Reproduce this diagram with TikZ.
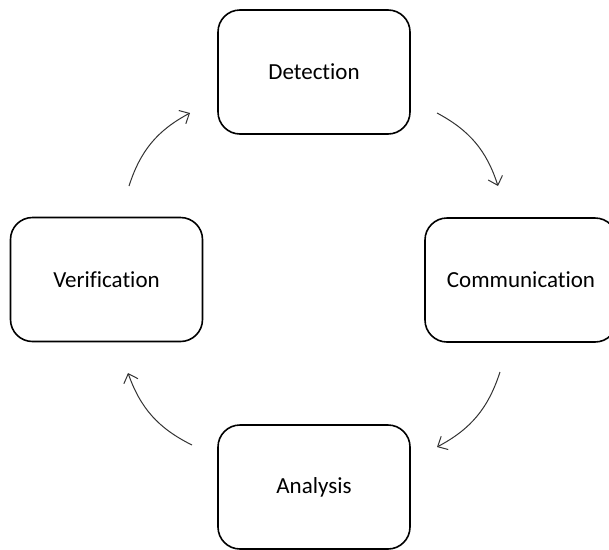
\documentclass[tikz,border=0pt]{standalone}
\usepackage{fontspec}
\setmainfont{Carlito}[Ligatures=NoCommon]
\usetikzlibrary{arrows.meta}
\definecolor{arrowgray}{HTML}{333333}
\tikzset{
  stagebox/.style={draw=black, line width=1.6pt, rounded corners=22pt, fill=white,
    minimum width=192pt, minimum height=124pt, inner sep=0pt,
    font=\fontsize{23}{27}\selectfont, text=black},
  cyclearrow/.style={draw=arrowgray, line width=1pt, bend left=22,
    -{Straight Barb[length=8pt,width=15pt,line width=1pt]}}
}
\begin{document}
\begin{tikzpicture}[x=1pt,y=-1pt]
\useasboundingbox (0,0) rectangle (609,549);
\clip (0,0) rectangle (609,549);
\node[stagebox] (det) at (314,72) {Detection};
\node[stagebox] (ver) at (106.5,279.5) {Verification};
\node[stagebox] (com) at (521,280) {Communication};
\node[stagebox] (ana) at (314,487) {Analysis};
\coordinate (a1s) at (437,113);
\coordinate (a1e) at (498,186);
\coordinate (a2s) at (500,372);
\coordinate (a2e) at (437,447);
\coordinate (a3s) at (192,445);
\coordinate (a3e) at (128,373);
\coordinate (a4s) at (129,186);
\coordinate (a4e) at (190,113);
\draw[cyclearrow] (a1s) to (a1e);
\draw[cyclearrow] (a2s) to (a2e);
\draw[cyclearrow] (a3s) to (a3e);
\draw[cyclearrow] (a4s) to (a4e);
\end{tikzpicture}
\end{document}
